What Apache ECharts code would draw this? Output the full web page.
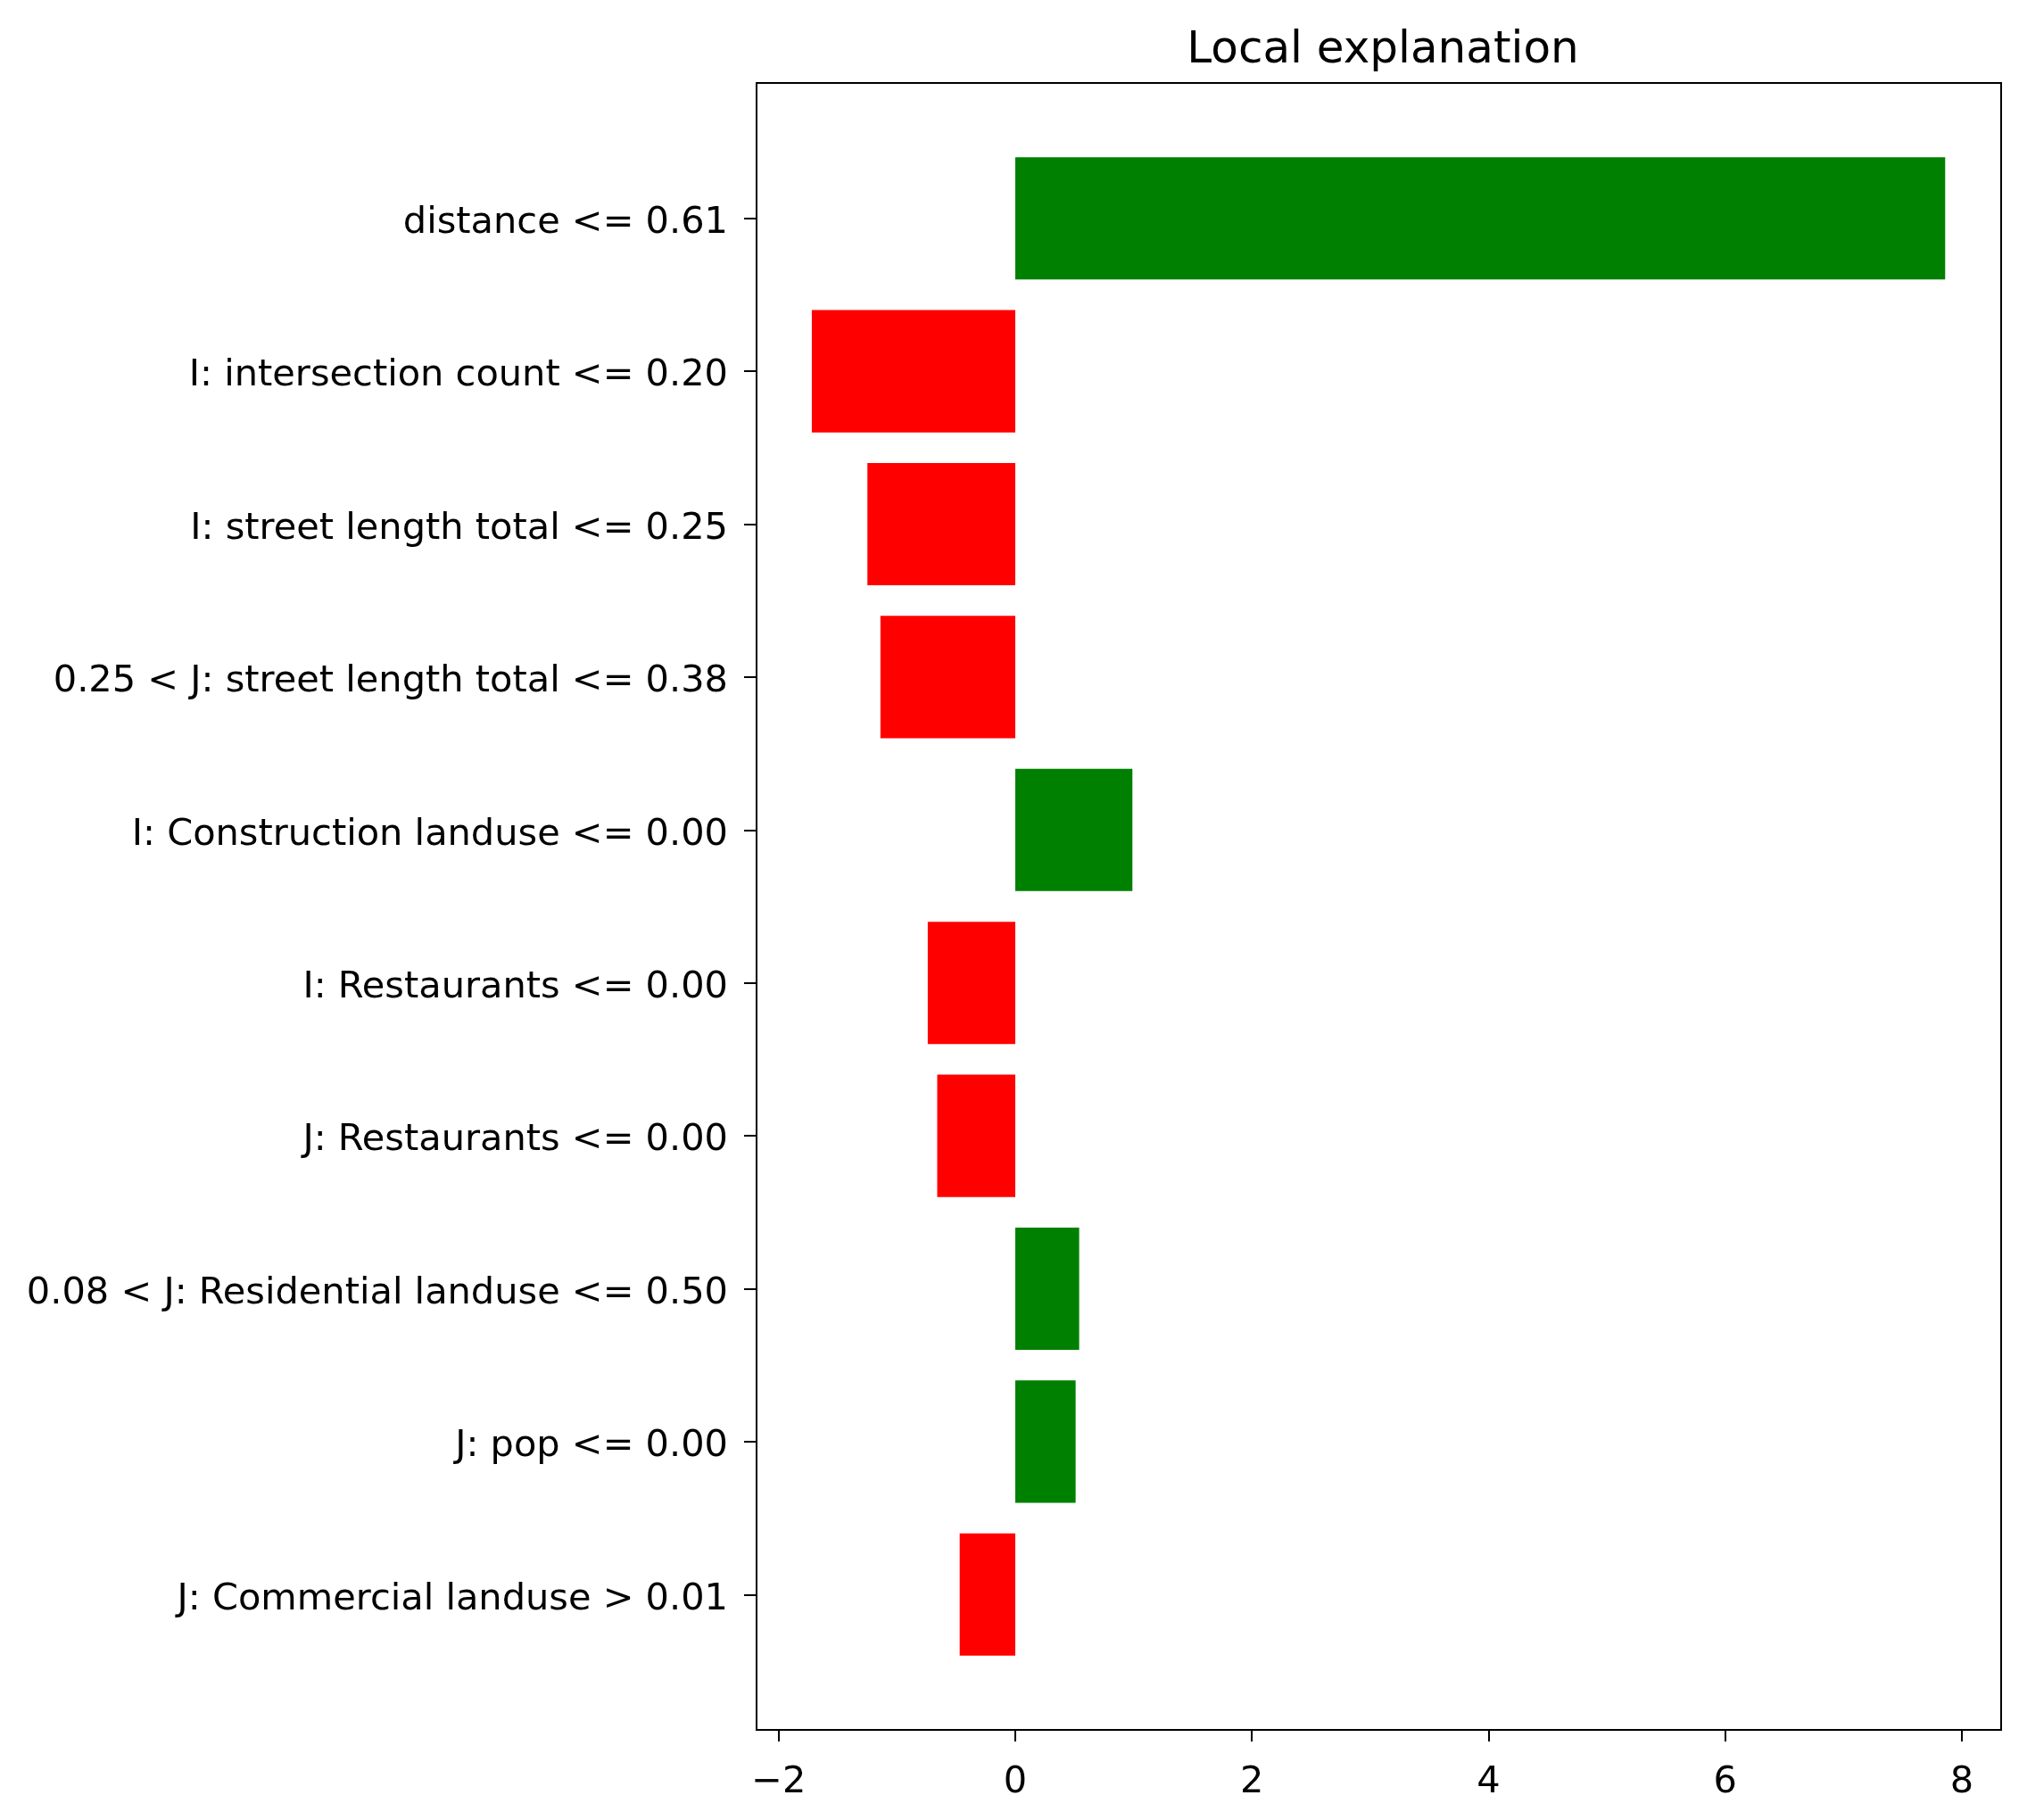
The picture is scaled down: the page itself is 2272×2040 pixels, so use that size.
<!DOCTYPE html>
<html>
<head>
<meta charset="utf-8">
<script src="https://cdn.jsdelivr.net/npm/echarts@6/dist/echarts.min.js"></script>
<style>
  html, body { margin: 0; padding: 0; background: #fff; }
  #chart { width: 2272px; height: 2040px; }
</style>
</head>
<body>
<div id="chart"></div>
<script>
// feature rules, top to bottom
var categories = [
    'distance <= 0.61',
    'I: intersection count <= 0.20',
    'I: street length total <= 0.25',
    '0.25 < J: street length total <= 0.38',
    'I: Construction landuse <= 0.00',
    'I: Restaurants <= 0.00',
    'J: Restaurants <= 0.00',
    '0.08 < J: Residential landuse <= 0.50',
    'J: pop <= 0.00',
    'J: Commercial landuse > 0.01'
];
// weights
var weights = [7.86, -1.72, -1.25, -1.14, 0.99, -0.74, -0.66, 0.54, 0.51, -0.47];
var xTicks = [-2, 0, 2, 4, 6, 8];

var xMin = -2.187, xMax = 8.333;
var font = 'DejaVu Sans';

var chart = echarts.init(document.getElementById('chart'));

var barData = weights.map(function (v) {
    return {
        value: v,
        itemStyle: { color: v > 0 ? '#008000' : '#ff0000' }
    };
});

var option = {
    backgroundColor: '#fff',
    animation: false,
    title: {
        text: 'Local explanation',
        left: 1545,
        top: 27,
        textAlign: 'center',
        textStyle: { fontFamily: font, fontSize: 50, fontWeight: 'normal', color: '#000' }
    },
    grid: [
        // frame
        { left: 848, top: 93, width: 1395, height: 1846, show: true, borderColor: '#000', borderWidth: 2, backgroundColor: 'transparent' },
        // bars (10 slots)
        { left: 848, top: 159, width: 1395, height: 1714 }
    ],
    xAxis: [
        {
            gridIndex: 0, type: 'value', min: xMin, max: xMax,
            axisLine: { show: false },
            splitLine: { show: false },
            axisTick: { show: true, length: 13, lineStyle: { color: '#000', width: 2 }, customValues: xTicks },
            axisLabel: {
                customValues: xTicks,
                margin: 38,
                fontFamily: font, fontSize: 41.5, color: '#000',
                formatter: function (v) { return String(v).replace('-', '\u2212'); }
            }
        },
        {
            gridIndex: 1, type: 'value', min: xMin, max: xMax, show: false
        }
    ],
    yAxis: [
        { gridIndex: 0, type: 'value', show: false, min: 0, max: 1 },
        {
            gridIndex: 1, type: 'category', data: categories, inverse: true,
            axisLine: { show: false, onZero: false },
            axisTick: { show: true, alignWithLabel: true, length: 14, lineStyle: { color: '#000', width: 2 } },
            axisLabel: {
                margin: 32, fontFamily: font, fontSize: 41.5, color: '#000',
                formatter: function (v) { return '{t|' + v + '}'; },
                rich: { t: { fontFamily: font, fontSize: 41.5, color: '#000', padding: [11, 0, 0, 0] } }
            },
            splitLine: { show: false }
        }
    ],
    series: [
        {
            type: 'bar',
            xAxisIndex: 1,
            yAxisIndex: 1,
            barWidth: '80%',
            data: barData
        }
    ]
};
chart.setOption(option);
</script>
</body>
</html>
